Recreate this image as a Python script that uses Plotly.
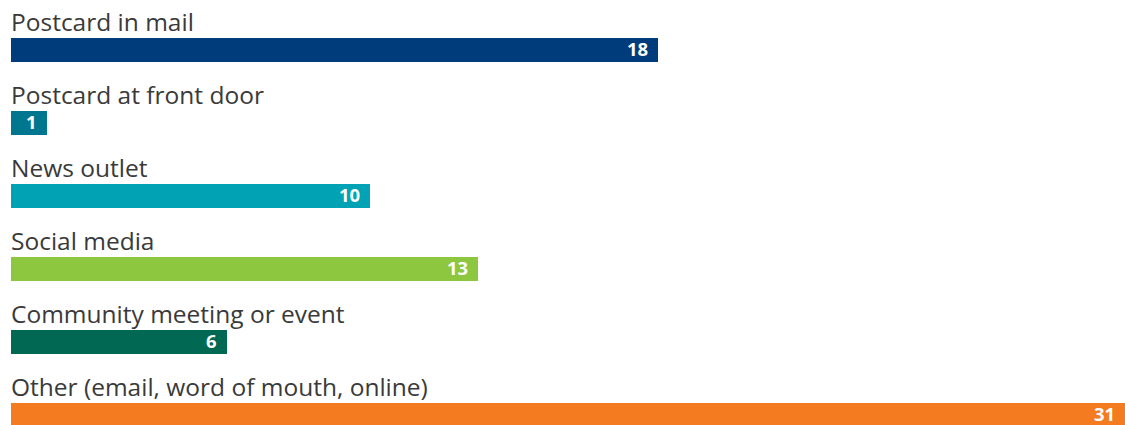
import plotly.graph_objects as go

categories = ["Postcard in mail", "Postcard at front door", "News outlet",
              "Social media", "Community meeting or event",
              "Other (email, word of mouth, online)"]
values = [18, 1, 10, 13, 6, 31]
colors = ["#003B7B", "#00768F", "#00A2B3", "#8DC63F", "#006853", "#F47B20"]

pos = list(range(len(categories)))

fig = go.Figure()
fig.add_trace(go.Bar(
    x=values, y=pos, orientation="h", width=0.33,
    marker=dict(color=colors, line=dict(width=0)),
    hoverinfo="skip", showlegend=False,
))

for i, (c, v) in enumerate(zip(categories, values)):
    fig.add_annotation(x=0, y=i - 0.165, xref="x", yref="y", text=c,
                       showarrow=False, xanchor="left", yanchor="bottom",
                       xshift=-2, yshift=-2,
                       font=dict(family="Open Sans", size=24.5, color="#3a3a3a"))
    fig.add_annotation(x=v, y=i, xref="x", yref="y", text=f"<b>{v}</b>",
                       showarrow=False, xanchor="right", yanchor="middle",
                       xshift=-8, yshift=2,
                       font=dict(family="Open Sans", size=18.5, color="#FFFFFF"))

fig.update_layout(
    width=1125, height=425,
    margin=dict(l=11, r=0, t=0, b=0),
    paper_bgcolor="white", plot_bgcolor="white",
    xaxis=dict(range=[0, 31], visible=False, fixedrange=True),
    yaxis=dict(range=[5.137, -0.685], visible=False, fixedrange=True),
    bargap=0,
)

fig.write_html("out.html", config={"displayModeBar": False},
               post_script="document.body.style.margin='0';document.body.style.padding='0';")
